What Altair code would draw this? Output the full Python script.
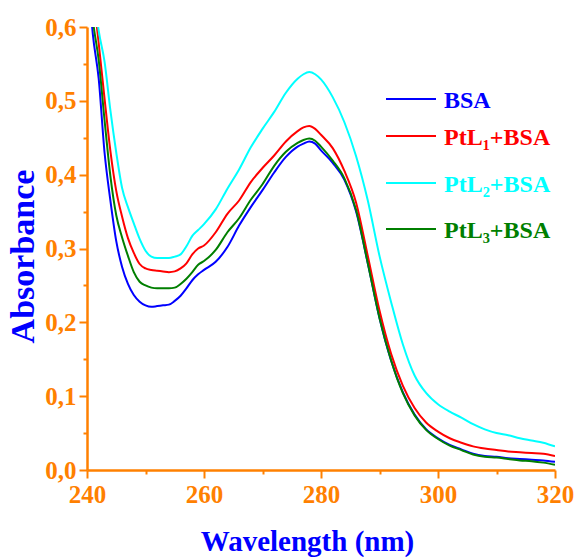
import altair as alt
import pandas as pd

wavelength = [240, 241, 242, 243, 244, 245, 246, 247, 248, 249, 250, 251, 252, 253, 254,
              255, 256, 257, 258, 259, 260, 262, 264, 266, 268, 270, 272, 274, 276, 277,
              278, 279, 280, 282, 284, 286, 288, 290, 292, 294, 296, 298, 300, 302, 304,
              306, 308, 310, 312, 314, 316, 318, 320]

bsa = [0.69, 0.59, 0.53, 0.43, 0.365, 0.31, 0.275, 0.252, 0.237, 0.228, 0.223, 0.221, 0.222,
       0.223, 0.224, 0.229, 0.236, 0.246, 0.257, 0.265, 0.271, 0.282, 0.302, 0.331, 0.356,
       0.379, 0.403, 0.424, 0.438, 0.442, 0.445, 0.442, 0.433, 0.416, 0.393, 0.35, 0.28,
       0.206, 0.148, 0.105, 0.075, 0.055, 0.043, 0.034, 0.028, 0.022, 0.019, 0.018, 0.016,
       0.015, 0.014, 0.013, 0.011]

ptl1 = [0.73, 0.65, 0.578, 0.503, 0.432, 0.378, 0.343, 0.314, 0.294, 0.279, 0.273, 0.271,
        0.270, 0.269, 0.268, 0.269, 0.273, 0.280, 0.292, 0.300, 0.304, 0.322, 0.347, 0.365,
        0.390, 0.409, 0.426, 0.445, 0.459, 0.464, 0.466, 0.462, 0.454, 0.436, 0.405, 0.362,
        0.29, 0.216, 0.157, 0.114, 0.084, 0.064, 0.052, 0.043, 0.037, 0.032, 0.029, 0.027,
        0.025, 0.024, 0.023, 0.022, 0.019]

ptl2 = [0.72, 0.66, 0.595, 0.553, 0.487, 0.43, 0.382, 0.356, 0.334, 0.313, 0.297, 0.289,
        0.287, 0.287, 0.287, 0.289, 0.292, 0.303, 0.317, 0.325, 0.333, 0.353, 0.381, 0.407,
        0.437, 0.462, 0.485, 0.511, 0.530, 0.536, 0.539, 0.536, 0.529, 0.505, 0.471, 0.425,
        0.365, 0.29, 0.227, 0.17, 0.128, 0.104, 0.089, 0.079, 0.071, 0.062, 0.055, 0.050,
        0.047, 0.043, 0.040, 0.037, 0.032]

ptl3 = [0.70, 0.61, 0.555, 0.474, 0.398, 0.345, 0.315, 0.29, 0.268, 0.255, 0.25, 0.247,
        0.246, 0.246, 0.246, 0.247, 0.252, 0.259, 0.268, 0.278, 0.283, 0.298, 0.322, 0.341,
        0.366, 0.387, 0.412, 0.431, 0.443, 0.447, 0.449, 0.446, 0.438, 0.419, 0.395, 0.352,
        0.28, 0.206, 0.148, 0.104, 0.074, 0.054, 0.042, 0.033, 0.027, 0.021, 0.018, 0.017,
        0.015, 0.013, 0.012, 0.010, 0.007]

series_names = ["BSA", "PtL\u2081+BSA", "PtL\u2082+BSA", "PtL\u2083+BSA"]
series_colors = ["#0000FF", "#FF0000", "#00FFFF", "#007F00"]

x_ticks = [240, 250, 260, 270, 280, 290, 300, 310, 320]
y_ticks = [0.0, 0.05, 0.1, 0.15, 0.2, 0.25, 0.3, 0.35, 0.4, 0.45, 0.5, 0.55, 0.6]

rows = []
for name, vals in zip(series_names, [bsa, ptl1, ptl2, ptl3]):
    for w, a in zip(wavelength, vals):
        rows.append({"wavelength": w, "absorbance": a, "series": name})
df = pd.DataFrame(rows)

ORANGE = "#FF8000"
FONT = "Liberation Serif"

x_axis = alt.Axis(
    values=x_ticks,
    labelExpr="datum.value % 20 === 0 ? datum.value : ''",
    tickSize={"condition": {"test": "datum.value % 20 === 0", "value": 8}, "value": 4},
    labelOverlap=False,
    labelFlush=False,
    labelPadding=4,
    grid=False,
    title="Wavelength (nm)",
    titleFont=FONT,
    titleFontSize=29,
    titleFontWeight="bold",
    titleColor="#0000FF",
    titleX=220,
    titleY=80,
    titleBaseline="alphabetic",
    titleAlign="center",
)

y_axis = alt.Axis(
    values=y_ticks,
    labelExpr="round(datum.value * 100) % 10 === 0 ? replace(format(datum.value, '.1f'), '.', ',') : ''",
    tickSize={"condition": {"test": "round(datum.value * 100) % 10 === 0", "value": 8}, "value": 4},
    labelOverlap=False,
    labelFlush=False,
    labelPadding=3,
    grid=False,
    title="Absorbance",
    titleFont=FONT,
    titleFontSize=34,
    titleFontWeight="bold",
    titleColor="#0000FF",
    titleX=-54,
    titleY=229,
    titleBaseline="alphabetic",
    titleAlign="center",
)

lines = alt.Chart(df).mark_line(strokeWidth=2, clip=True, interpolate="monotone").encode(
    x=alt.X("wavelength:Q", scale=alt.Scale(domain=[240, 320], nice=False, zero=False), axis=x_axis),
    y=alt.Y("absorbance:Q", scale=alt.Scale(domain=[0, 0.6], nice=False), axis=y_axis),
    color=alt.Color("series:N", scale=alt.Scale(domain=series_names, range=series_colors), legend=None),
)

legend_line_y = [72, 109, 156, 202]
layers = [lines]
for name, color, ly in zip(series_names, series_colors, legend_line_y):
    item = pd.DataFrame({"label": [name]})
    rule = alt.Chart(item).mark_rule(color=color, strokeWidth=2).encode(
        x=alt.value(299), x2=alt.value(349), y=alt.value(ly)
    )
    txt = alt.Chart(item).mark_text(
        font=FONT, fontSize=24, fontWeight="bold", color=color,
        align="left", baseline="alphabetic"
    ).encode(text="label:N", x=alt.value(357), y=alt.value(ly + 9))
    layers += [rule, txt]

chart = alt.layer(*layers).properties(
    width=468, height=443,
    padding={"left": 87, "top": 27, "right": 20, "bottom": 87},
    autosize="none",
).configure_view(stroke="transparent").configure_axis(
    domainColor=ORANGE, domainWidth=2.5, tickColor=ORANGE, tickWidth=2,
    labelColor=ORANGE, labelFont=FONT, labelFontSize=25, labelFontWeight="bold",
)

chart.save("out.html", embed_options={"renderer": "svg", "actions": False})
